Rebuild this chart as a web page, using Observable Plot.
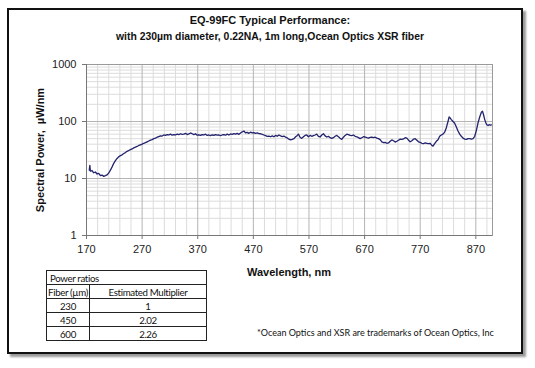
<!DOCTYPE html>
<html>
<head>
<meta charset="utf-8">
<script src="https://cdn.jsdelivr.net/npm/d3@7"></script>
<script src="https://cdn.jsdelivr.net/npm/@observablehq/plot@0.6"></script>
<style>
  html, body { margin: 0; padding: 0; background: #fff; }
  #wrap { position: relative; width: 535px; height: 368px; overflow: hidden; }
  #chart { position: absolute; left: 0; top: 0; }
  .t { position: absolute; font-family: "Liberation Sans", Arial, sans-serif; font-weight: bold; color: #111; white-space: nowrap; }
  #frame { position: absolute; left: 7px; top: 8px; width: 512px; height: 342px; border: 2px solid #111; box-shadow: 3px 3px 2px #9a9a9a; pointer-events: none; }
  #tbl { position: absolute; left: 46px; top: 270px; border-collapse: collapse; table-layout: fixed; font-family: Lato, "Open Sans", sans-serif; font-size: 9.7px; letter-spacing: -0.35px; color: #111; }
  #tbl td { border: 1px solid #222; padding: 0; height: 13px; line-height: 12px; text-align: center; white-space: nowrap; overflow: hidden; }
  #note { position: absolute; left: 257px; top: 327px; font-family: Lato, "Open Sans", sans-serif; font-size: 9px; color: #111; white-space: nowrap; }
</style>
</head>
<body>
<div id="wrap">
  <div id="chart"></div>
  <div class="t" style="left:0;width:540px;text-align:center;top:14px;font-size:11px;">EQ-99FC Typical Performance:</div>
  <div class="t" style="left:0;width:540px;text-align:center;top:31px;font-size:10.4px;">with 230µm diameter, 0.22NA, 1m long,Ocean Optics XSR fiber</div>
  <div class="t" style="left:0;width:578px;text-align:center;top:266px;font-size:11px;">Wavelength, nm</div>
  <div class="t" style="left:40px;top:150px;font-size:11px;transform:translate(-50%,-50%) rotate(-90deg);">Spectral Power,&nbsp; µW/nm</div>
  <table id="tbl"></table>
  <div id="note"></div>
  <div id="frame"></div>
</div>
<script>
// ---- data ----
const wavelength = [
  175,176,177,180,183,186,189,192,195,198,201,204,207,210,213,216,219,222,225,228,
  231,234,237,240,243,246,249,252,255,258,261,264,267,270,273,276,279,282,285,288,
  291,294,297,300,303,306,309,312,315,318,321,324,327,330,333,336,339,342,345,348,
  351,354,357,360,363,366,369,372,375,378,381,384,387,390,393,396,399,402,405,408,
  411,414,417,420,423,426,429,432,435,438,441,444,447,450,453,456,459,462,465,468,
  471,474,477,480,483,486,489,492,495,498,501,504,507,510,513,516,519,522,525,528,
  531,534,537,540,543,546,549,551,554,557,560,563,566,569,572,575,578,581,584,587,
  590,593,596,599,602,605,608,611,614,617,620,623,626,629,632,635,638,641,644,647,
  650,653,656,659,662,665,668,671,674,677,680,683,686,689,692,695,698,701,704,707,
  710,713,716,719,722,725,728,731,734,737,740,743,746,749,752,755,758,761,764,767,
  770,773,776,779,782,785,788,791,793,796,799,802,805,808,811,814,817,820,822,824,
  826,829,832,835,838,841,844,847,850,853,856,859,862,865,868,871,874,877,880,882,
  884,886,888,890,892,894,896,898
];
const power = [
  14,17,13.5,13.8,12.6,13,12,12.3,11.2,11.5,10.9,11.2,11.6,12.5,14,16,18.5,20.5,22.5,24,
  25.2,26,27.5,28.5,30,31,32,33,34.5,35.5,36.5,38,39,40,41.5,42.5,44,45.5,47,48,
  50,51,53,54.5,56,55.5,58,57,59,58,60,57.5,59,58,60,59,61,59.5,60,62,
  59,60.5,63,61,59,61,57.5,58.5,57,59,58,60,57,58,56.5,58.5,57,59,57.5,58,
  56.5,58,59,57.5,60,58,60.5,59.5,61.5,60,62,59.5,63,66,68,63,64.5,62,65,63,
  64,62,63,61.5,61,59.5,58,56.5,55,55.5,54,56,54,57,55,58,56,54.5,55.5,53,
  51.5,49,47.5,48.5,50,54,57,60,53,50.5,54,57,58,54,57,55,56.5,58,60,55,
  53.5,58,61,56,53.5,55,52,50.5,52,55,57,54,51,48.5,53,57,60,59,57,56.5,
  58,55,54,52,50,52,54,53.5,52,51,52.5,53,52,53,51,50,48,44,42.5,43,
  41.5,42,45,47.5,46,43.5,45,47,49,48.5,49.5,52,51,47,44,46,49,50,47,44,
  43,41.5,41,42,41.5,41,41.5,38,37,41,45,48,55,58,60,65,78,100,120,115,
  108,100,93,80,68,60,55,51,49,48.5,50,50,49,50,55,70,95,120,145,152,
  130,108,95,87,85,88,86,87
];
const majorX = [170,270,370,470,570,670,770,870];
const minorX = d3.range(170, 901, 20).filter(v => !majorX.includes(v));
const majorY = [1,10,100,1000];
const minorY = [1,10,100].flatMap(d => [2,3,4,5,6,7,8,9].map(k => k*d));

const tableRows = [
  ["Fiber (µm)", "Estimated Multiplier"],
  ["230", "1"],
  ["450", "2.02"],
  ["600", "2.26"]
];
const tableTitle = "Power ratios";
const footnote = "*Ocean Optics and XSR are trademarks of Ocean Optics, Inc";

const data = wavelength.map((w, i) => ({w, p: power[i]}));

const chart = Plot.plot({
  width: 535,
  height: 368,
  marginLeft: 86,
  marginRight: 43,
  marginTop: 64,
  marginBottom: 133,
  style: {background: "transparent", fontFamily: "Liberation Sans, Arial, sans-serif", fontSize: "11px", color: "#222"},
  x: {domain: [170, 900]},
  y: {type: "log", domain: [1, 1000]},
  marks: [
    Plot.ruleX(minorX, {stroke: "#dcdcdc", strokeWidth: 1}),
    Plot.ruleY(minorY, {stroke: "#dcdcdc", strokeWidth: 1}),
    Plot.ruleX(majorX, {stroke: "#b4b4b4", strokeWidth: 1}),
    Plot.ruleY(majorY, {stroke: "#b4b4b4", strokeWidth: 1}),
    Plot.frame({stroke: "#9a9a9a"}),
    Plot.ruleX([170], {stroke: "#777"}),
    Plot.ruleY([1], {stroke: "#777"}),
    Plot.axisX({ticks: majorX, tickSize: 4, tickPadding: 6, label: null, tickFormat: d => String(d), stroke: "#777"}),
    Plot.axisY({ticks: majorY, tickSize: 4, tickPadding: 6, label: null, tickFormat: d => String(d), stroke: "#777"}),
    Plot.line(data, {x: "w", y: "p", stroke: "#22226e", strokeWidth: 1.3})
  ]
});
document.getElementById("chart").appendChild(chart);

// table
const tbl = document.getElementById("tbl");
const cg = document.createElement("colgroup");
["43px", "117px"].forEach(w => { const c = document.createElement("col"); c.style.width = w; cg.appendChild(c); });
tbl.appendChild(cg);
const tr0 = document.createElement("tr");
const td0 = document.createElement("td");
td0.colSpan = 2; td0.textContent = tableTitle; td0.style.textAlign = "left"; td0.style.paddingLeft = "3px";
tr0.appendChild(td0); tbl.appendChild(tr0);
tableRows.forEach(r => {
  const tr = document.createElement("tr");
  r.forEach(c => {
    const td = document.createElement("td");
    td.textContent = c;
    tr.appendChild(td);
  });
  tbl.appendChild(tr);
});
document.getElementById("note").textContent = footnote;
</script>
</body>
</html>
